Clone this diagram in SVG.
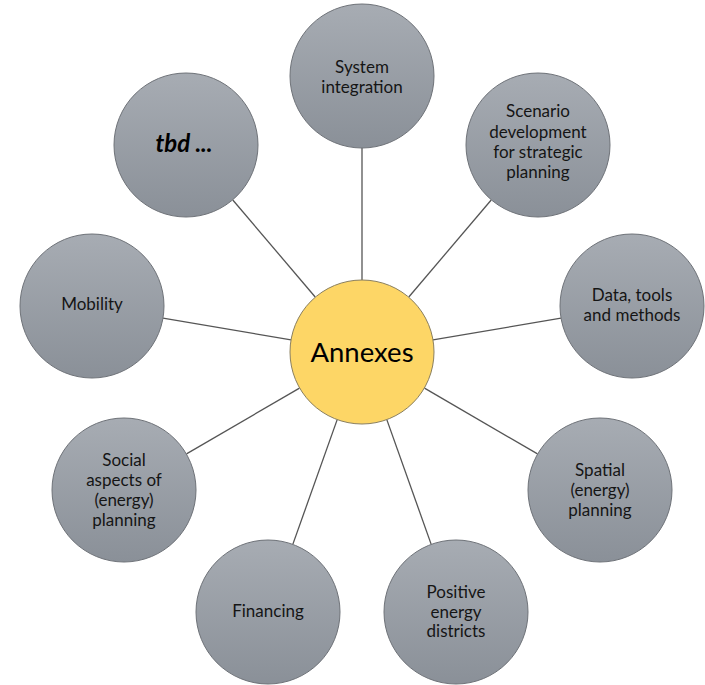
<svg xmlns="http://www.w3.org/2000/svg" width="705" height="685" viewBox="0 0 705 685">
<style>
.bg{fill:#ffffff}
.sat{fill:url(#g);stroke:#6e7278;stroke-width:1}
.hub{fill:#FDD666;stroke:#8a7f5e;stroke-width:1}
.t{font-family:Lato,"Liberation Sans",sans-serif;font-size:17px;fill:#151515;text-anchor:middle}
.big{font-family:Lato,"Liberation Sans",sans-serif;font-size:27.5px;fill:#000;text-anchor:middle}
.tbd{font-family:Lato,"Liberation Sans",sans-serif;font-size:24px;font-weight:bold;font-style:italic;fill:#000;text-anchor:middle}
.c line{stroke:#555;stroke-width:1.3}
</style>
<defs>
<linearGradient id="g" x1="0" y1="0" x2="0" y2="1">
<stop offset="0" stop-color="#A7ACB3"/>
<stop offset="1" stop-color="#8A9098"/>
</linearGradient>
</defs>
<rect class="bg" x="0" y="0" width="705" height="685"/>
<g id="connectors" class="c">
<line x1="362" y1="280" x2="362" y2="148"/>
<line x1="408.8" y1="297" x2="491.2" y2="200"/>
<line x1="433" y1="339.9" x2="561" y2="318.1"/>
<line x1="424.5" y1="388.1" x2="537.5" y2="453.9"/>
<line x1="386.9" y1="419.9" x2="431.1" y2="544.1"/>
<line x1="337.1" y1="419.9" x2="292.9" y2="544.1"/>
<line x1="299.5" y1="388.1" x2="186.5" y2="453.9"/>
<line x1="291" y1="339.9" x2="163" y2="318.1"/>
<line x1="315.2" y1="297" x2="232.8" y2="200"/>
</g>
<g id="n-system">
<circle class="sat" cx="362" cy="76" r="72"/>
<text class="t" x="362" y="73">System</text>
<text class="t" x="362" y="93">integration</text>
</g>
<g id="n-scenario">
<circle class="sat" cx="538" cy="145" r="72"/>
<text class="t" x="538" y="117">Scenario</text>
<text class="t" x="538" y="137.5">development</text>
<text class="t" x="538" y="158">for strategic</text>
<text class="t" x="538" y="178">planning</text>
</g>
<g id="n-data">
<circle class="sat" cx="632" cy="306" r="72"/>
<text class="t" x="632" y="300.5">Data, tools</text>
<text class="t" x="632" y="320.5">and methods</text>
</g>
<g id="n-spatial">
<circle class="sat" cx="600" cy="490" r="72"/>
<text class="t" x="600" y="475.5">Spatial</text>
<text class="t" x="600" y="495.5">(energy)</text>
<text class="t" x="600" y="515.5">planning</text>
</g>
<g id="n-positive">
<circle class="sat" cx="456" cy="612" r="72"/>
<text class="t" x="456" y="597.5">Positive</text>
<text class="t" x="456" y="617.5">energy</text>
<text class="t" x="456" y="637">districts</text>
</g>
<g id="n-financing">
<circle class="sat" cx="268" cy="612" r="72"/>
<text class="t" x="268" y="616.5">Financing</text>
</g>
<g id="n-social">
<circle class="sat" cx="124" cy="490" r="72"/>
<text class="t" x="124" y="466">Social</text>
<text class="t" x="124" y="486">aspects of</text>
<text class="t" x="124" y="505.5">(energy)</text>
<text class="t" x="124" y="525.5">planning</text>
</g>
<g id="n-mobility">
<circle class="sat" cx="92" cy="306" r="72"/>
<text class="t" x="92" y="310">Mobility</text>
</g>
<g id="n-tbd">
<circle class="sat" cx="186" cy="145" r="72"/>
<text class="tbd" x="184" y="152">tbd ...</text>
</g>
<g id="n-annexes">
<circle class="hub" cx="362" cy="352" r="72"/>
<text class="big" x="362" y="362">Annexes</text>
</g>
</svg>
